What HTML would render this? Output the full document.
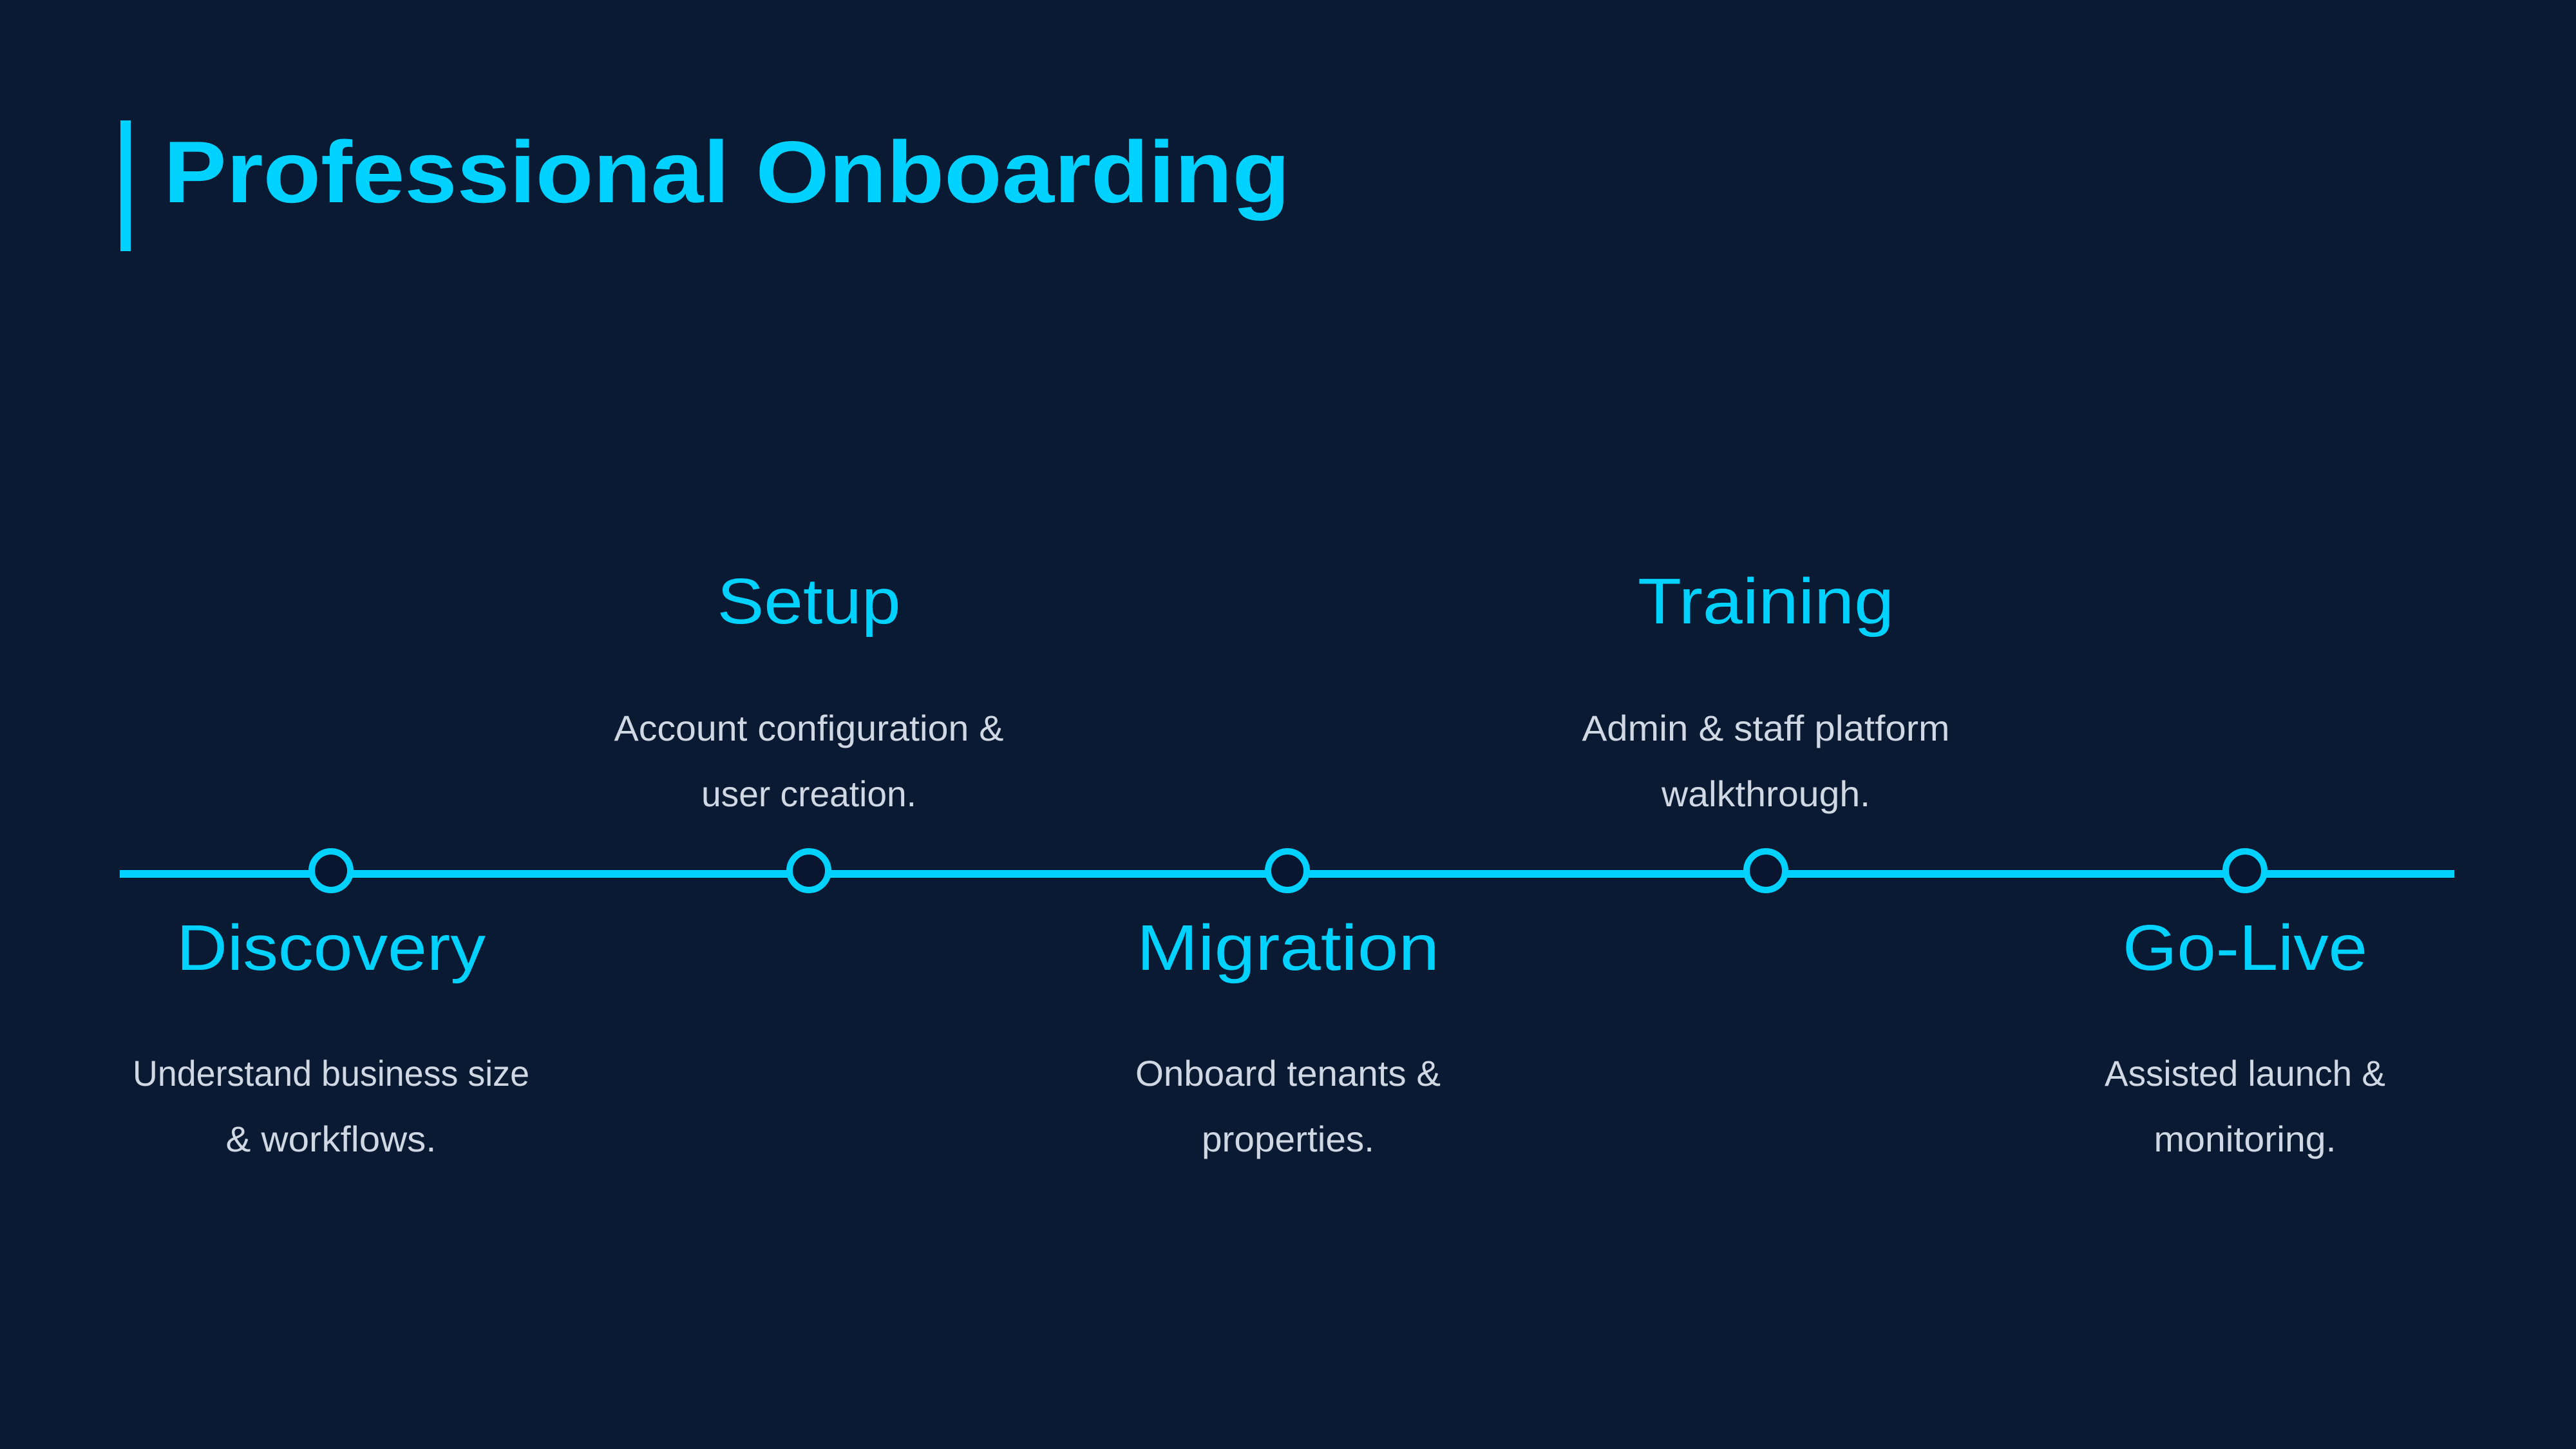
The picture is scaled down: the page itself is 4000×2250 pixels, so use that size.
<!DOCTYPE html>
<html><head><meta charset="utf-8"><style>
html,body{margin:0;padding:0;background:#0b1a33;}
svg{display:block}
</style></head><body>
<svg width="4000" height="2250" viewBox="0 0 4000 2250" xmlns="http://www.w3.org/2000/svg">
<rect width="4000" height="2250" fill="#0b1a33"/>
<rect x="187" y="187" width="16" height="203" fill="#00d2ff"/>
<text x="254" y="314" font-family="Liberation Sans, sans-serif" font-weight="bold" font-size="136" fill="#00d2ff" textLength="1749" lengthAdjust="spacingAndGlyphs">Professional Onboarding</text>
<rect x="186" y="1351" width="3625" height="12" fill="#00d2ff"/>
<g fill="#0a1630" stroke="#00d2ff" stroke-width="10">
<circle cx="514" cy="1352" r="30"/>
<circle cx="1256" cy="1352" r="30"/>
<circle cx="1999" cy="1352" r="30"/>
<circle cx="2742" cy="1352" r="30"/>
<circle cx="3486" cy="1352" r="30"/>
</g>
<g font-family="Liberation Sans, sans-serif" font-size="100" fill="#00d2ff" text-anchor="middle">
<text x="514" y="1506" textLength="480" lengthAdjust="spacingAndGlyphs">Discovery</text>
<text x="1256" y="968" textLength="285" lengthAdjust="spacingAndGlyphs">Setup</text>
<text x="2000" y="1506" textLength="470" lengthAdjust="spacingAndGlyphs">Migration</text>
<text x="2742" y="968" textLength="398" lengthAdjust="spacingAndGlyphs">Training</text>
<text x="3486" y="1506" textLength="380" lengthAdjust="spacingAndGlyphs">Go-Live</text>
</g>
<g font-family="Liberation Sans, sans-serif" font-size="56" fill="#cfd8e3" text-anchor="middle">
<text x="514" y="1686" textLength="616" lengthAdjust="spacingAndGlyphs">Understand business size</text>
<text x="514" y="1788" textLength="327" lengthAdjust="spacingAndGlyphs">&amp; workflows.</text>
<text x="1256" y="1150" textLength="605" lengthAdjust="spacingAndGlyphs">Account configuration &amp;</text>
<text x="1256" y="1252" textLength="334" lengthAdjust="spacingAndGlyphs">user creation.</text>
<text x="2000" y="1686" textLength="474" lengthAdjust="spacingAndGlyphs">Onboard tenants &amp;</text>
<text x="2000" y="1788" textLength="268" lengthAdjust="spacingAndGlyphs">properties.</text>
<text x="2742" y="1150" textLength="571" lengthAdjust="spacingAndGlyphs">Admin &amp; staff platform</text>
<text x="2742" y="1252" textLength="324" lengthAdjust="spacingAndGlyphs">walkthrough.</text>
<text x="3486" y="1686" textLength="436" lengthAdjust="spacingAndGlyphs">Assisted launch &amp;</text>
<text x="3486" y="1788" textLength="283" lengthAdjust="spacingAndGlyphs">monitoring.</text>
</g>
</svg>
</body></html>
